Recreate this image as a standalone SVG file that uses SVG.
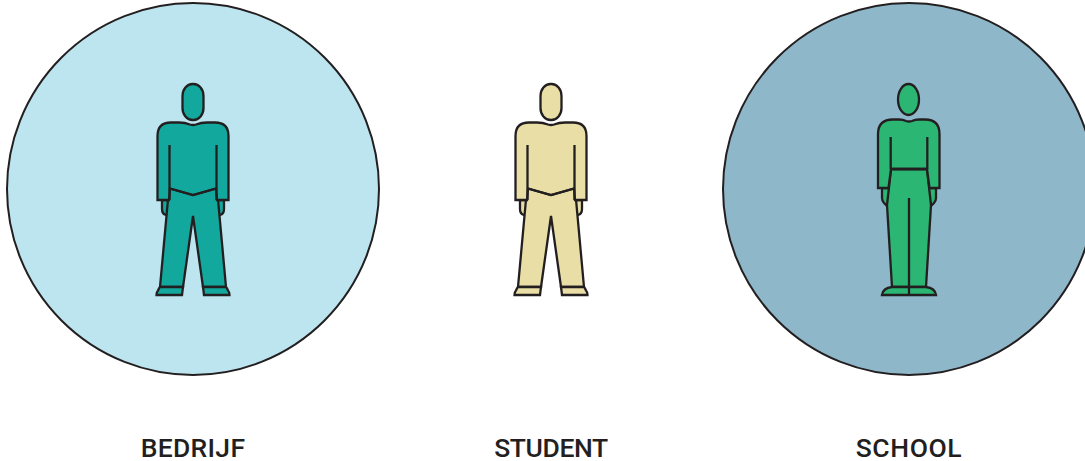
<svg xmlns="http://www.w3.org/2000/svg" width="1085" height="461" viewBox="0 0 1085 461">
<style>
.c{stroke:#231f20;stroke-width:2}
.p{stroke:#231f20;stroke-width:2.300;stroke-linejoin:miter}
.l{fill:none;stroke:#231f20;stroke-width:2.300}
.t{font-family:"Roboto","Liberation Sans",sans-serif;font-size:26.500px;font-weight:500;fill:#231f20;text-anchor:middle}
</style>
<defs>
<g id="man">
<path class="p" d="M-31 200V209Q-31 214 -27 215L-23.500 216.500V200ZM31 200V209Q31 214 27 215L23.500 216.500V200Z"/>
<path class="p" d="M-24 188.500L-33 287H-10L0 216L10 287H33L24 188.500Z"/>
<path class="p" d="M-33 287H-10L-11 295H-36.500Q-36.500 292 -35 290.500Q-34 288 -33 287ZM33 287H10L11 295H36.500Q36.500 292 35 290.500Q34 288 33 287Z"/>
<path class="p" d="M-35.500 200V136Q-35.500 122.500 -22 122.500H-14Q-8 122.500 -3 124.500Q0 125.500 3 124.500Q8 122.500 14 122.500H22Q35.500 122.500 35.500 136V200H24L23 188.500L0 195L-23 188.500L-24 200Z"/>
<path class="l" d="M-23.500 145V200M23.500 145V200M-23.500 188.500L0 195L23.500 188.500"/>
<rect class="p" x="-10.500" y="84" width="21" height="36" rx="10" ry="12"/>
</g>
</defs>
<g id="bedrijf">
<circle class="c" cx="193" cy="189" r="186" fill="#bde5ef"/>
<use href="#man" x="193" fill="#12a89d"/>
<text class="t" x="193" y="457" letter-spacing="0.300">BEDRIJF</text>
</g>
<g id="student">
<use href="#man" x="551" fill="#e8dea6"/>
<text class="t" x="551" y="457" letter-spacing="-0.400">STUDENT</text>
</g>
<g id="school">
<circle class="c" cx="909" cy="189" r="186" fill="#8fb7ca"/>
<g fill="#2bb673">
<path class="p" d="M882 188V198Q882 201 884 203L887 206L891 188ZM936 188V198Q936 201 934 203L931 206L927 188Z"/>
<path class="p" d="M891 169L887 205L892 287H926L931 205L927 169Z"/>
<path class="p" d="M892 287H926Q935 288 936 295H882Q883 288 892 287Z"/>
<path class="p" d="M878 188V134Q878 119.500 893 119.500H899Q903 119.500 906 121Q909 122 912 121Q915 119.500 919 119.500H925Q939.500 119.500 939.500 134V188H929.500L927 169H891L888.500 188Z"/>
<path class="l" d="M890.700 137V169M927.300 137V169M890.700 169H927.300M909 198V295"/>
<ellipse class="p" cx="908.500" cy="99.500" rx="10.500" ry="15.500"/>
</g>
<text class="t" x="909" y="457" letter-spacing="0.600">SCHOOL</text>
</g>
<g id="connectors"/>
</svg>
